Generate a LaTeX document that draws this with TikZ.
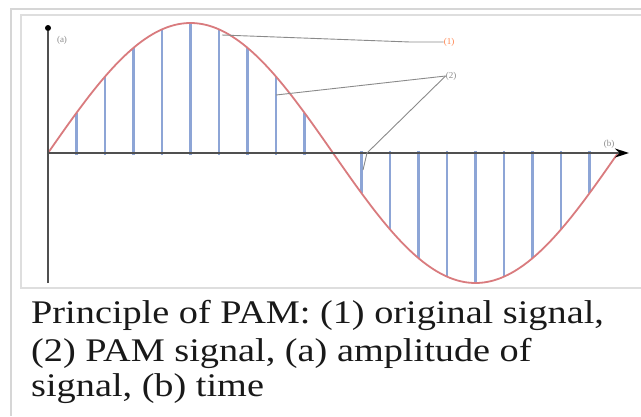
\documentclass[tikz,border=0pt]{standalone}
\usepackage{fontspec}
\setmainfont{Liberation Serif}
\newfontfamily\capfont[FakeStretch=1.16]{Liberation Serif}
\usetikzlibrary{arrows.meta, positioning, calc}
\definecolor{curvered}{HTML}{D97B7E}
\definecolor{sampleblue}{HTML}{8DA5D6}
\definecolor{framegray}{HTML}{D6D6D6}
\definecolor{axisgray}{HTML}{505050}
\definecolor{leadergray}{HTML}{8A8A8A}

\begin{document}
\begin{tikzpicture}[x=1pt, y=-1pt,
  frame/.style={line width=1.6pt, framegray},
  sample/.style={line width=2.4pt, sampleblue},
  leader/.style={line width=0.9pt, leadergray},
  lbl/.style={font=\fontsize{9}{9}\selectfont, inner sep=0pt, text=leadergray},
  caption/.style={font=\capfont\fontsize{33}{37}\selectfont, text=black!90, inner sep=0pt, anchor=base west}]
  \useasboundingbox (0,0) rectangle (641,416);
  \draw[frame] (641,9) -- (11,9) -- (11,416);
  \draw[frame, framegray!80] (641,15) -- (21,15) -- (21,288) -- (641,288);

  \coordinate (O) at (48,153);
  \coordinate (ybot) at (48,283);
  \coordinate (xend) at (629,153);
  \node[circle, fill=black, inner sep=0pt, minimum size=6pt] (ydot) at (48,28) {};

  \foreach \k in {1,...,9,11,12,...,19} {
    \pgfmathsetmacro{\xs}{48+28.5*\k}
    \pgfmathsetmacro{\ys}{153-130*sin(18*\k)}
    \pgfmathsetmacro{\yo}{\ys<153 ? 155 : 151}
    \draw[sample] (\xs,\yo) -- (\xs,\ys);
  }
  \draw[line width=1.8pt, curvered] plot[domain=48:618, samples=120, smooth] (\x, {153-130*sin((\x-48)/570*360)});

  \draw[line width=1.8pt, axisgray] (ybot) -- (ydot);
  \draw[line width=1.8pt, axisgray, -{Stealth[length=14pt, width=9pt, color=black]}] (O) -- (xend);

  \node[lbl] (la) at (62,40) {(a)};
  \node[lbl] (lb) at (609,144) {(b)};
  \node[lbl, text=orange!60!red!70] (l1) at (449,42) {(1)};
  \node[lbl] (l2) at (451,76) {(2)};

  \coordinate (s1) at (222,35);
  \coordinate (b1) at (410,42);
  \draw[leader] (s1) -- (b1) -- (l1.west);
  \coordinate (s2) at (276,95);
  \draw[leader] (s2) -- (l2.west);
  \coordinate (b2) at (367,153);
  \coordinate (s3) at (363,170);
  \draw[leader] (l2.west) -- (b2) -- (s3);

  \node[caption] (cap1) at (31,323) {Principle of PAM: (1) original signal,};
  \node[caption] (cap2) at (31,361) {(2) PAM signal, (a) amplitude of};
  \node[caption] (cap3) at (31,396) {signal, (b) time};
\end{tikzpicture}
\end{document}
